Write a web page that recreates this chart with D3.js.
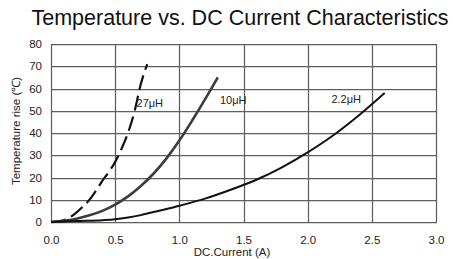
<!DOCTYPE html>
<html>
<head>
<meta charset="utf-8">
<script src="https://cdn.jsdelivr.net/npm/d3@7"></script>
<style>
  body { margin: 0; background: #fff; }
  svg { display: block; font-family: "Liberation Sans", Arial, sans-serif; }
</style>
</head>
<body>
<svg></svg>
<script>
// data (current in A, temperature rise in degC)
var xTicks = [0, 0.5, 1.0, 1.5, 2.0, 2.5, 3.0];
var yTicks = [0, 10, 20, 30, 40, 50, 60, 70, 80];

var seriesNames = ["27μH", "10μH", "2.2μH"];

var current27 = [0, 0.1, 0.17, 0.25, 0.3, 0.35, 0.4, 0.45, 0.5, 0.55, 0.6, 0.65, 0.7, 0.75];
var temp27 = [0, 0.8, 3, 7, 10, 14, 18.5, 22.5, 27, 33, 40, 49.5, 62, 71];

var current10 = [0, 0.1, 0.2, 0.3, 0.4, 0.5, 0.6, 0.7, 0.8, 0.9, 1.0, 1.1, 1.2, 1.3];
var temp10 = [0, 0.5, 1.5, 3, 5, 7.8, 11.5, 16.2, 21.8, 28.6, 36.6, 45.6, 55.1, 65];

var current22 = [0, 0.2, 0.4, 0.5, 0.6, 0.7, 0.8, 0.9, 1.0, 1.2, 1.4, 1.6, 1.8, 2.0, 2.2, 2.4, 2.6];
var temp22 = [0, 0.4, 0.8, 1.2, 2, 3.1, 4.5, 5.8, 7.3, 10.5, 14.5, 19, 24.6, 31.3, 39, 48, 58];

var svgWidth = 453, svgHeight = 259;
var margin = {left: 51, right: 17, top: 44, bottom: 37};
var width = svgWidth - margin.left - margin.right;
var height = svgHeight - margin.top - margin.bottom;

var svg = d3.select("svg")
    .attr("width", svgWidth)
    .attr("height", svgHeight);

var xScale = d3.scaleLinear().domain([0, 3]).range([0, width]);
var yScale = d3.scaleLinear().domain([0, 80]).range([height, 0]);

var g = svg.append("g")
    .attr("transform", "translate(" + margin.left + "," + margin.top + ")");

// grid as one path
var gridPath = d3.path();
xTicks.forEach(function(d) {
    var x = Math.round(xScale(d)) + 0.5;
    gridPath.moveTo(x, 0);
    gridPath.lineTo(x, height);
});
yTicks.forEach(function(d) {
    var y = Math.round(yScale(d)) + 0.5;
    gridPath.moveTo(0, y);
    gridPath.lineTo(width + 1, y);
});
g.append("path")
    .attr("d", gridPath.toString())
    .attr("fill", "none")
    .attr("stroke", "#5e5e5e")
    .attr("stroke-width", 1.25);

// tick labels
var xAxis = d3.axisBottom(xScale).tickValues(xTicks).tickSize(0).tickPadding(14)
    .tickFormat(d3.format(".1f"));
var yAxis = d3.axisLeft(yScale).tickValues(yTicks).tickSize(0).tickPadding(9);

var xg = g.append("g").attr("transform", "translate(0," + height + ")").call(xAxis);
xg.select(".domain").remove();
xg.selectAll("text").attr("font-size", 11.5).attr("fill", "#222")
    .attr("font-family", "Liberation Sans, Arial, sans-serif");

var yg = g.append("g").call(yAxis);
yg.select(".domain").remove();
yg.selectAll("text").attr("font-size", 11.5).attr("fill", "#222")
    .attr("font-family", "Liberation Sans, Arial, sans-serif");

// curves
var line = d3.line()
    .x(function(d) { return xScale(d[0]); })
    .y(function(d) { return yScale(d[1]); })
    .curve(d3.curveMonotoneX);

g.append("path")
    .datum(d3.zip(current27, temp27))
    .attr("d", line)
    .attr("fill", "none").attr("stroke", "#111")
    .attr("stroke-width", 2.2)
    .attr("stroke-dasharray", "15,6");

g.append("path")
    .datum(d3.zip(current10, temp10))
    .attr("d", line)
    .attr("fill", "none").attr("stroke", "#3c3c3c")
    .attr("stroke-width", 2.6);

g.append("path")
    .datum(d3.zip(current22, temp22))
    .attr("d", line)
    .attr("fill", "none").attr("stroke", "#111")
    .attr("stroke-width", 2);

// series labels
var labelPos = [[0.77, 51.5], [1.42, 53], [2.3, 53.5]];
g.selectAll(".series-label")
    .data(seriesNames)
    .enter().append("text")
    .attr("class", "series-label")
    .attr("x", function(d, i) { return xScale(labelPos[i][0]); })
    .attr("y", function(d, i) { return yScale(labelPos[i][1]); })
    .attr("text-anchor", "middle")
    .attr("font-size", 11)
    .attr("fill", "#222")
    .text(function(d) { return d; });

// titles
svg.append("text")
    .attr("x", 240).attr("y", 25)
    .attr("text-anchor", "middle")
    .attr("font-size", 21.5)
    .attr("fill", "#111")
    .text("Temperature vs. DC Current Characteristics");

svg.append("text")
    .attr("x", 232).attr("y", 256)
    .attr("text-anchor", "middle")
    .attr("font-size", 11.5)
    .attr("fill", "#222")
    .text("DC.Current (A)");

svg.append("text")
    .attr("transform", "translate(20,131) rotate(-90)")
    .attr("text-anchor", "middle")
    .attr("font-size", 11.5)
    .attr("fill", "#222")
    .text("Temperature rise (℃)");
</script>
</body>
</html>
